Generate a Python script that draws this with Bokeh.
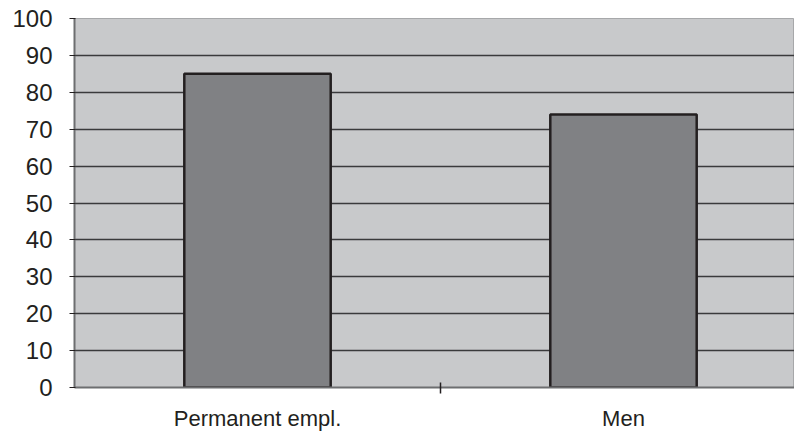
from bokeh.plotting import figure
from bokeh.models import Range1d, FixedTicker
from bokeh.embed import file_html
from bokeh.resources import INLINE

# Share of respondents (%) per group
categories = ["Permanent empl.", "Men"]
values = [85, 74]
y_ticks = [0, 10, 20, 30, 40, 50, 60, 70, 80, 90, 100]

centers = [i + 0.5 for i in range(len(categories))]

p = figure(
    width=794, height=433,
    x_range=Range1d(0, 720 / 366),
    y_range=Range1d(0, 100),
    output_backend="svg", toolbar_location=None,
    min_border_left=74, min_border_right=0,
    min_border_top=18, min_border_bottom=45,
    background_fill_color="#c8c9cb",
    border_fill_color="white",
)
p.outline_line_color = "#a7a8aa"
p.outline_line_width = 1

p.vbar(x=centers, top=values, bottom=0, width=0.4,
       fill_color="#808184", line_color="#231f20", line_width=2.5)

font = "Liberation Sans"

# x axis: category labels at band centres, separator ticks between bands
xa = p.xaxis[0]
xa.ticker = FixedTicker(ticks=centers, minor_ticks=[1])
xa.major_label_overrides = {c: lab for c, lab in zip(centers, categories)}
xa.major_tick_line_color = None
xa.major_tick_in = 0
xa.major_tick_out = 0
xa.minor_tick_line_color = "#231f20"
xa.minor_tick_line_width = 1.5
xa.minor_tick_in = 5
xa.minor_tick_out = 6
xa.axis_line_color = "#6d6e70"
xa.axis_line_width = 2
xa.major_label_text_font = font
xa.major_label_text_font_size = "22px"
xa.major_label_text_color = "#231f20"
xa.major_label_standoff = 12

ya = p.yaxis[0]
ya.ticker = FixedTicker(ticks=y_ticks)
ya.minor_tick_line_color = None
ya.major_tick_line_color = "#231f20"
ya.major_tick_line_width = 1.2
ya.major_tick_in = 1
ya.major_tick_out = 5
ya.axis_line_color = "#6d6e70"
ya.axis_line_width = 2
ya.major_label_text_font = font
ya.major_label_text_font_size = "24px"
ya.major_label_text_color = "#231f20"
ya.major_label_standoff = 17

p.xgrid.grid_line_color = None
p.ygrid.ticker = FixedTicker(ticks=y_ticks[1:-1])
p.ygrid.grid_line_color = "#3a3a3c"
p.ygrid.grid_line_width = 1.5

open("out.html", "w").write(file_html(p, INLINE))
